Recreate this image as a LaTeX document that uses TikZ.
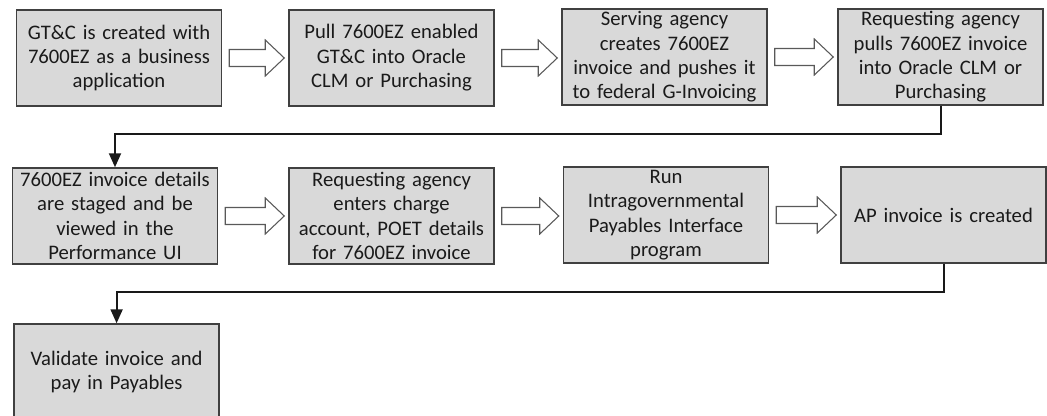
\documentclass[tikz,border=0pt]{standalone}
\usepackage{fontspec}
\setmainfont{Carlito}
\usetikzlibrary{calc,arrows.meta}
\definecolor{boxfill}{HTML}{D9D9D9}
\definecolor{boxline}{HTML}{404040}
\definecolor{txt}{HTML}{1A1A1A}
\definecolor{arrline}{HTML}{595959}
\tikzset{
  procbox/.style={draw=boxline, line width=1.1pt, fill=boxfill, text=txt,
    minimum width=153.75pt, minimum height=72pt, text width=150pt, inner sep=1pt,
    align=center, font=\fontsize{15.5pt}{18.3pt}\selectfont},
  blockarr/.style={draw=arrline, line width=0.8pt, fill=white, line join=miter},
  conn/.style={draw=black!90, line width=1.5pt, -{Triangle[length=10.5pt,width=9pt]}}
}
\newcommand{\blockarrow}[2]{%
  \path (#1.east) ++(7,0) coordinate (tl) (#2.west) ++(-4,0) coordinate (hd);
  \coordinate (tp) at (hd |- tl);
  \draw[blockarr] ($(tl)+(0,-8.5)$) -- ($(tp)+(-19,-8.5)$) -- ($(tp)+(-19,-18)$)
    -- (tp) -- ($(tp)+(-19,18)$) -- ($(tp)+(-19,8.5)$) -- ($(tl)+(0,8.5)$) -- cycle;
}
\begin{document}
\begin{tikzpicture}[x=0.75pt,y=-0.75pt]
\useasboundingbox (0,0) rectangle (1047,416);
\clip (0,0) rectangle (1047,416);
\node[procbox] (b1) at (119,58) {GT\&C is created with\\7600EZ as a business\\application};
\node[procbox] (b2) at (391.5,58) {Pull 7600EZ enabled\\GT\&C into Oracle\\CLM or Purchasing};
\node[procbox] (b3) at (664.5,57) {Serving agency\\creates 7600EZ\\invoice and pushes it\\to federal G-Invoicing};
\node[procbox] (b4) at (940.5,57) {Requesting agency\\pulls 7600EZ invoice\\into Oracle CLM or\\Purchasing};
\node[procbox] (b5) at (115,216) {7600EZ invoice details\\are staged and be\\viewed in the\\Performance UI};
\node[procbox] (b6) at (391.5,216) {Requesting agency\\enters charge\\account, POET details\\for 7600EZ invoice};
\node[procbox] (b7) at (666,215) {Run\\Intragovernmental\\Payables Interface\\program};
\node[procbox] (b8) at (943.5,215) {AP invoice is created};
\node[procbox] (b9) at (116.6,372) {Validate invoice and\\pay in Payables};
\blockarrow{b1}{b2}
\blockarrow{b2}{b3}
\blockarrow{b3}{b4}
\blockarrow{b5}{b6}
\blockarrow{b6}{b7}
\blockarrow{b7}{b8}
\draw[conn] (b4.south) -- ++(0,28) -| (b5.north);
\draw[conn] (b8.south) -- ++(0,28) -| (b9.north);
\end{tikzpicture}
\end{document}
